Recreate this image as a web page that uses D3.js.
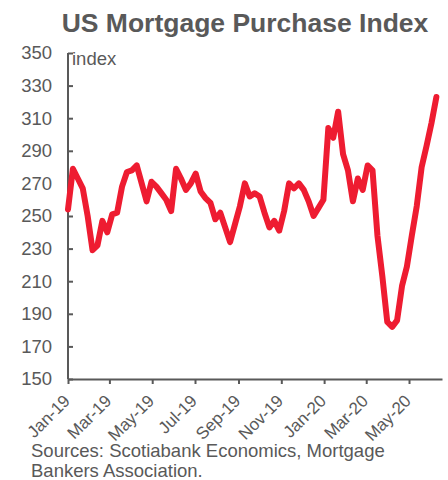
<!DOCTYPE html>
<html><head><meta charset="utf-8">
<script src="https://cdn.jsdelivr.net/npm/d3@7"></script>
<style>body{margin:0;background:#fff}svg{display:block}text{font-family:"Liberation Sans",Arial,sans-serif;fill:#595959}</style>
</head><body><div id="c"></div>
<script>
const startDate = "2019-01-01";
const values = [254,279,273,267,250,229,232,247,240,251,252,268,277,278,281,270,259,271,268,264,
260,253,279,273,266,270,276,265,261,258,248,252,243,234,245,256,270,262,264,262,
252,243,247,241,253,270,267,270,266,259,250,255,260,304,298,314,288,278,259,273,
266,281,278,238,213,185,182,186,207,219,238,256,280,293,307,323];
const yTicks = [150,170,190,210,230,250,270,290,310,330,350];
const xTickDates = ["2019-01-01","2019-03-01","2019-05-01","2019-07-01","2019-09-01","2019-11-01","2020-01-01","2020-03-01","2020-05-01"];
const xTickLabels = ["Jan-19","Mar-19","May-19","Jul-19","Sep-19","Nov-19","Jan-20","Mar-20","May-20"];
const title = "US Mortgage Purchase Index";
const unitLabel = "index";
const sourceLines = ["Sources: Scotiabank Economics, Mortgage","Bankers Association."];

const W=448,H=480;
const parse=d3.utcParse("%Y-%m-%d");
const t0=parse(startDate);
const dates=values.map((v,i)=>d3.utcDay.offset(t0,7*i));
const data=values.map((v,i)=>({d:dates[i],v}));
const svg=d3.select("#c").append("svg").attr("width",W).attr("height",H);
const L=68,R=442,T=53,B=379;
const x=d3.scaleUtc().domain([t0,parse("2020-06-17")]).range([L,R]);
const y=d3.scaleLinear().domain([150,350]).range([B,T]);
const gray="#595959";

svg.append("text").attr("x",245).attr("y",32).attr("text-anchor","middle")
  .style("font-size","26.5px").style("font-weight","bold").text(title);

// y axis
const ya=svg.append("g").attr("transform",`translate(${L},0)`)
  .call(d3.axisRight(y).tickValues(yTicks).tickSize(5).tickFormat(""));
ya.select(".domain").attr("d",`M0,${T}V${B}`);
ya.selectAll("line,path").attr("stroke",gray).attr("stroke-width",2);
svg.append("g").selectAll("text").data(yTicks).join("text")
  .attr("x",52).attr("y",d=>y(d)).attr("dy","0.35em").attr("text-anchor","end")
  .style("font-size","18.5px").text(d=>d);

// x axis
const xa=svg.append("g").attr("transform",`translate(0,${B})`)
  .call(d3.axisBottom(x).tickValues(xTickDates.map(parse)).tickSize(5).tickSizeOuter(0).tickFormat(""));
xa.selectAll("line,path").attr("stroke",gray).attr("stroke-width",2);
svg.append("g").selectAll("text").data(xTickDates).join("text")
  .attr("transform",d=>`translate(${x(parse(d))+3},${B+23}) rotate(-45)`)
  .attr("text-anchor","end")
  .style("font-size","17px").text((d,i)=>xTickLabels[i]);

svg.append("text").attr("x",72).attr("y",65).style("font-size","18.5px").text(unitLabel);

svg.append("path").datum(data)
  .attr("d",d3.line().x(d=>x(d.d)).y(d=>y(d.v)))
  .attr("fill","none").attr("stroke","#EE1C31").attr("stroke-width",6)
  .attr("stroke-linejoin","round").attr("stroke-linecap","round");

svg.append("g").selectAll("text").data(sourceLines).join("text")
  .attr("x",31).attr("y",(d,i)=>457+i*20).style("font-size","18.5px").text(d=>d);
</script></body></html>
